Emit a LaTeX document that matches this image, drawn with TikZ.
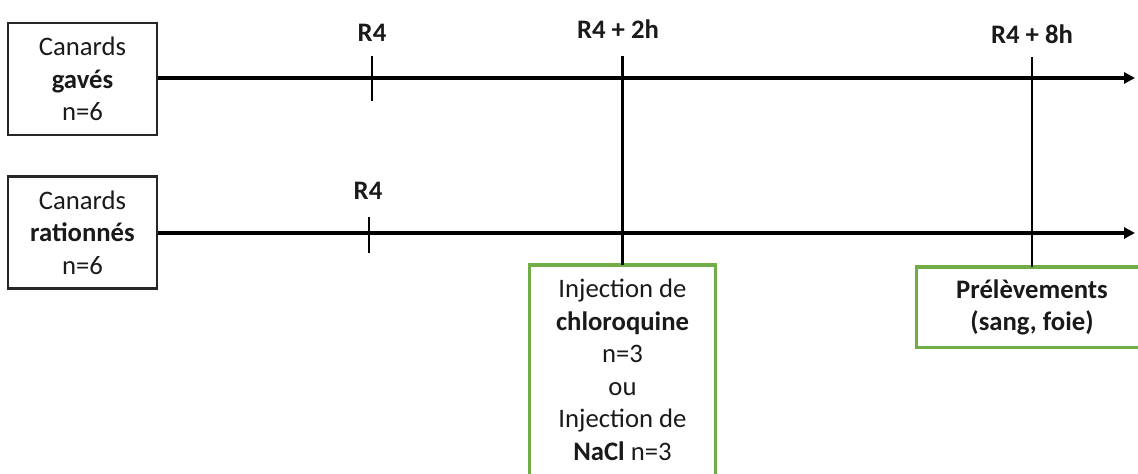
\documentclass[tikz,border=0pt]{standalone}
\usepackage{fontspec}
\setmainfont{Carlito}
\usetikzlibrary{arrows.meta}
\definecolor{txt}{HTML}{1A1A1A}
\definecolor{grn}{HTML}{70AD47}
\begin{document}
\begin{tikzpicture}[x=0.5pt,y=-0.5pt,
  every node/.style={font=\fontsize{13.35pt}{16.25pt}\selectfont, text=txt, align=center},
  groupbox/.style={draw=black!85, line width=1.3pt, minimum width=74.5pt, minimum height=56pt, inner sep=0pt},
  greenframe/.style={draw=grn, line width=1.6pt},
  timeline/.style={draw=black, line width=1.7pt, -{Triangle[length=5.5pt,width=5.5pt]}},
  tickline/.style={draw=black, line width=1.4pt},
  timelabel/.style={font=\fontsize{13.35pt}{16.25pt}\selectfont\bfseries, inner sep=1pt}
]
\useasboundingbox (0,0) rectangle (1138,474);
\clip (0,0) rectangle (1138,474);

% group boxes
\node[groupbox] (g1) at (82.5,79) {Canards\\\textbf{gavés}\\n=6};
\node[groupbox] (g2) at (82.5,232.5) {Canards\\\textbf{rationnés}\\n=6};

% time line ends
\coordinate (e1) at (1135,78);
\coordinate (e2) at (1135,233);
\draw[timeline] (g1.east |- e1) -- (e1);
\draw[timeline] (g2.east |- e2) -- (e2);

% R4 ticks
\coordinate (t1a) at (372,56);
\coordinate (t1b) at (372,101);
\coordinate (t2a) at (369,217);
\coordinate (t2b) at (369,253);
\draw[tickline] (t1a) -- (t1b);
\draw[tickline] (t2a) -- (t2b);

% labels
\node[timelabel] (l1) at (372,33) {R4};
\node[timelabel] (l2) at (618,29) {R4 + 2h};
\node[timelabel] (l3) at (1032,34) {R4 + 8h};
\node[timelabel] (l4) at (368,191) {R4};

% injection box (runs past the bottom edge)
\node[anchor=north, inner xsep=0pt, inner ysep=7pt, minimum width=92.5pt] (inj) at (622.5,265)
  {Injection de\\\textbf{chloroquine}\\n=3\\ou\\Injection de\\\textbf{NaCl} n=3};
\draw[greenframe] ([yshift=-12pt]inj.south west) |- (inj.north east) -- ([yshift=-12pt]inj.south east);

% prelevements box (runs past the right edge)
\node[anchor=north, inner sep=0pt, minimum width=115pt, minimum height=40pt] (prel) at (1032,267)
  {\textbf{Prélèvements}\\\textbf{(sang, foie)}};
\draw[greenframe] ([xshift=12pt]prel.north east) -| (prel.south west) -- ([xshift=12pt]prel.south east);

% vertical event lines
\coordinate (v1) at (622.5,56);
\coordinate (v2) at (1032,57);
\draw[tickline] (v1) -- (inj.north);
\draw[tickline] (v2) -- (prel.north);
\end{tikzpicture}
\end{document}
